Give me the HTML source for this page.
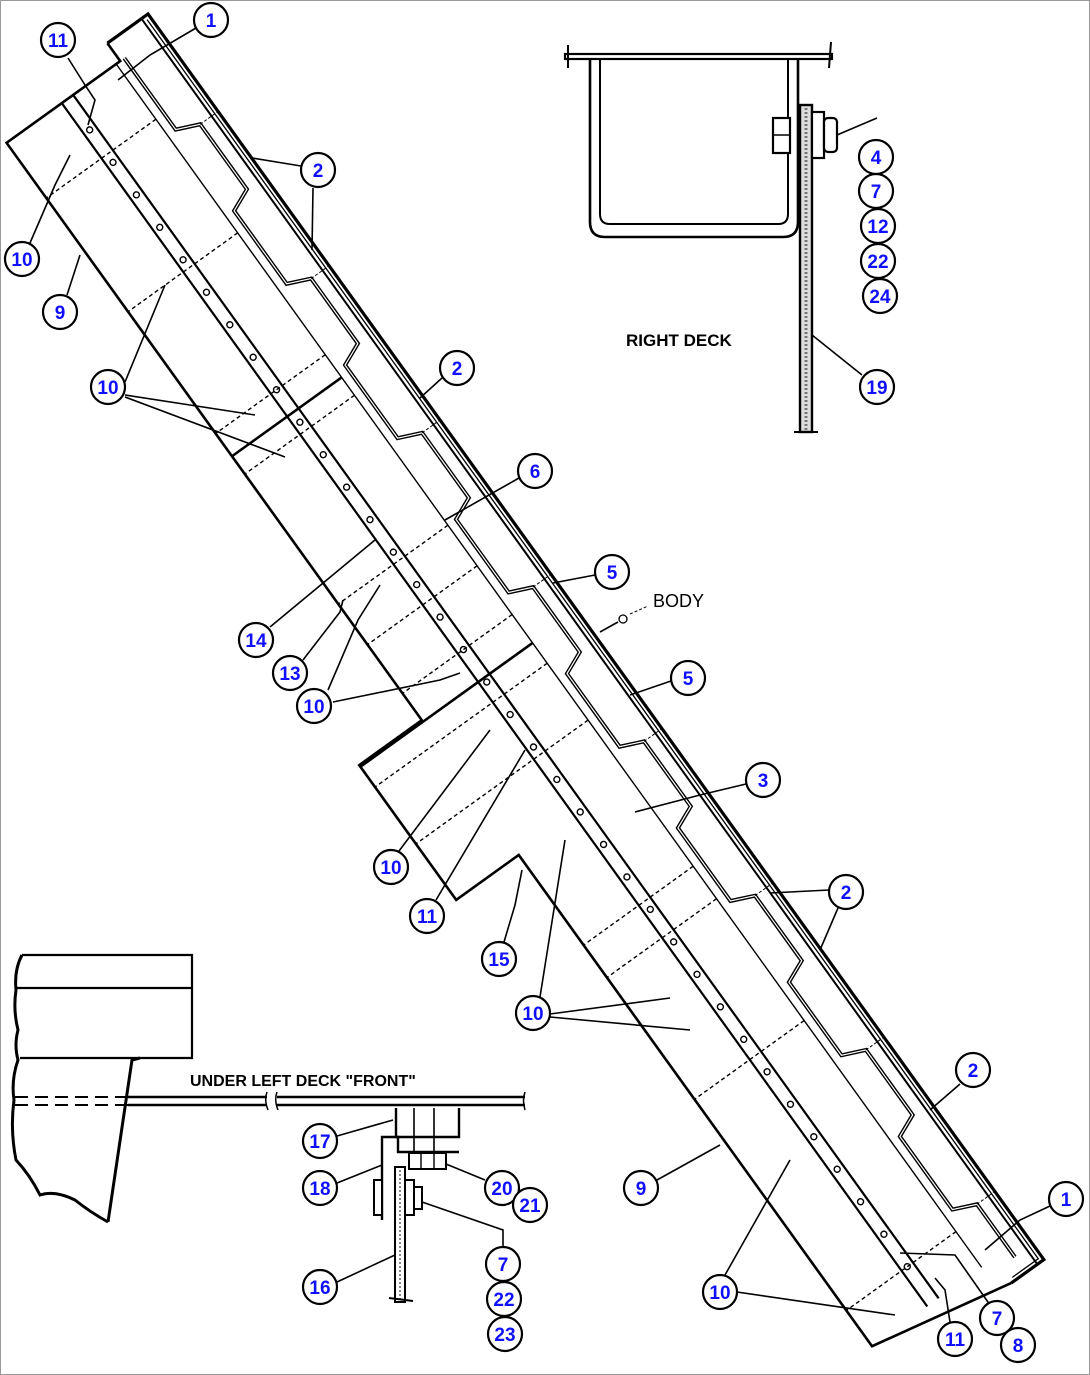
<!DOCTYPE html>
<html><head><meta charset="utf-8"><style>
html,body{margin:0;padding:0;background:#fff}
svg{display:block}
.c circle{fill:#fff;stroke:#000;stroke-width:2.2}
.c text{fill:#1010ff;font-family:"Liberation Sans",sans-serif;font-weight:bold;font-size:19px;text-anchor:middle}
.l{stroke:#000;stroke-width:1.6;fill:none}
.t{font-family:"Liberation Sans",sans-serif;font-weight:bold;font-size:17px;fill:#000}
</style></head><body>
<svg width="1090" height="1375" viewBox="0 0 1090 1375" xmlns="http://www.w3.org/2000/svg">
<rect x="0.5" y="0.5" width="1089" height="1374" fill="#fff" stroke="#999" stroke-width="1"/>

<g transform="matrix(0.584 0.812 -0.812 0.584 148 14)" fill="none" stroke="#000">
  <path d="M0 50 L0 0 L1534 0 L1534 40" stroke-width="3.2"/>
  <path d="M4 4 L1530 4 L1530 36" stroke-width="1.3"/>
  <line x1="0" y1="8" x2="1534" y2="8" stroke-width="2"/>
  <path d="M0 50 L22 50 L22 190 L733 190 L733 267 L899 267 L899 190 L1504 190 L1534 40" stroke-width="2.6"/>
  <path d="M22 45 L110 45 L120 22 L200 22 L210 45 L300 45 L310 22 L390 22 L400 45 L490 45 L500 22 L580 22 L590 45 L680 45 L690 22 L770 22 L780 45 L870 45 L880 22 L960 22 L970 45 L1060 45 L1070 22 L1150 22 L1160 45 L1250 45 L1260 22 L1340 22 L1350 45 L1440 45 L1450 22 L1515 22" stroke-width="4"/>
  <path d="M22 45 L110 45 L120 22 L200 22 L210 45 L300 45 L310 22 L390 22 L400 45 L490 45 L500 22 L580 22 L590 45 L680 45 L690 22 L770 22 L780 45 L870 45 L880 22 L960 22 L970 45 L1060 45 L1070 22 L1150 22 L1160 45 L1250 45 L1260 22 L1340 22 L1350 45 L1440 45 L1450 22 L1515 22" stroke="#fff" stroke-width="1.2"/>
  <path d="M22 55 L1504 55" stroke-width="1.4"/>
  <path d="M120 22 L120 0 M310 22 L310 0 M500 22 L500 0 M690 22 L690 0 M880 22 L880 0 M1070 22 L1070 0 M1260 22 L1260 0 M1450 22 L1450 0" stroke-width="1" stroke-dasharray="3 2"/>
  <line x1="22" y1="108" x2="1504" y2="108" stroke-width="2.2"/>
  <line x1="22" y1="122" x2="1504" y2="122" stroke-width="2.2"/>
  <g stroke-width="1.4" fill="#fff">
    <circle cx="60" cy="115" r="3"/><circle cx="100" cy="115" r="3"/><circle cx="140" cy="115" r="3"/><circle cx="180" cy="115" r="3"/><circle cx="220" cy="115" r="3"/><circle cx="260" cy="115" r="3"/><circle cx="300" cy="115" r="3"/><circle cx="340" cy="115" r="3"/><circle cx="380" cy="115" r="3"/><circle cx="420" cy="115" r="3"/><circle cx="460" cy="115" r="3"/><circle cx="500" cy="115" r="3"/><circle cx="540" cy="115" r="3"/><circle cx="580" cy="115" r="3"/><circle cx="620" cy="115" r="3"/><circle cx="660" cy="115" r="3"/><circle cx="700" cy="115" r="3"/><circle cx="740" cy="115" r="3"/><circle cx="780" cy="115" r="3"/><circle cx="820" cy="115" r="3"/><circle cx="860" cy="115" r="3"/><circle cx="900" cy="115" r="3"/><circle cx="940" cy="115" r="3"/><circle cx="980" cy="115" r="3"/><circle cx="1020" cy="115" r="3"/><circle cx="1060" cy="115" r="3"/><circle cx="1100" cy="115" r="3"/><circle cx="1140" cy="115" r="3"/><circle cx="1180" cy="115" r="3"/><circle cx="1220" cy="115" r="3"/><circle cx="1260" cy="115" r="3"/><circle cx="1300" cy="115" r="3"/><circle cx="1340" cy="115" r="3"/><circle cx="1380" cy="115" r="3"/><circle cx="1420" cy="115" r="3"/><circle cx="1460" cy="115" r="3"/>
  </g>
  <g stroke-width="1.4" stroke-dasharray="4 3">
    <path d="M90 55 L90 190 M230 55 L230 190 M380 55 L380 190 M430 55 L430 190 M590 55 L590 190 M640 55 L640 190 M700 55 L700 190 M760 55 L760 267 M830 55 L830 267 M1010 55 L1010 190 M1050 55 L1050 190 M1200 55 L1200 190 M1460 55 L1460 190"/>
  </g>
  <path d="M408 55 L408 190" stroke-width="2.6"/>
  <path d="M735 55 L735 267" stroke-width="2.6"/>
</g>

<g class="l">
  <path d="M196 28 L150 55 L118 80"/>
  <path d="M68 58 L85 85 L95 100 L88 125"/>
  <path d="M301 166 L252 158 M313 188 L312 250"/>
  <path d="M30 243 L55 185 L70 155"/>
  <path d="M67 295 L80 255"/>
  <path d="M125 382 L165 285 M125 395 L255 415 M125 397 L285 457"/>
  <path d="M442 378 L420 398"/>
  <path d="M519 478 L445 520"/>
  <path d="M595 575 L553 583"/>
  <path d="M270 627 L375 540"/>
  <path d="M303 660 L340 612 L343 600"/>
  <path d="M333 702 L440 680 L460 673 M328 690 L358 620 L380 585"/>
  <path d="M671 681 L630 695"/>
  <path d="M746 784 L700 795 L635 812"/>
  <path d="M399 851 L490 730"/>
  <path d="M436 900 L525 750"/>
  <path d="M504 942 L515 905 L522 870"/>
  <path d="M829 890 L770 893 M838 908 L820 950"/>
  <path d="M540 997 L565 840 M550 1014 L670 998 M550 1017 L690 1030"/>
  <path d="M960 1084 L930 1110"/>
  <path d="M1050 1206 L1020 1220 L985 1250"/>
  <path d="M657 1180 L720 1145"/>
  <path d="M725 1275 L790 1160 M737 1292 L895 1315"/>
  <path d="M900 1253 L955 1255 L990 1305"/>
  <path d="M950 1322 L945 1290 L935 1278"/>
  <path d="M600 632 L618 622"/>
</g>
<circle cx="623" cy="619" r="4" fill="none" stroke="#000" stroke-width="1.3"/>
<text x="653" y="607" class="t" style="font-weight:normal;font-size:18px">BODY</text>
<line x1="630" y1="614" x2="648" y2="606" stroke="#000" stroke-width="1" stroke-dasharray="3 2"/>

<g fill="none" stroke="#000">
  <rect x="565" y="54" width="267" height="5" stroke-width="2.2"/>
  <path d="M568 45 L568 68 M831 42 L829 68" stroke-width="2"/>
  <path d="M590 59 L590 222 Q590 237 605 237 L783 237 Q798 237 798 222 L798 59" stroke-width="2.6"/>
  <path d="M600 59 L600 214 Q600 224 610 224 L778 224 Q788 224 788 214 L788 59" stroke-width="2"/>
  <rect x="800" y="105" width="12" height="327" stroke-width="2.4" fill="#ddd"/>
  <line x1="806" y1="108" x2="806" y2="430" stroke="#777" stroke-width="3" stroke-dasharray="2 2"/>
  <line x1="794" y1="432" x2="818" y2="432" stroke-width="2"/>
  <rect x="773" y="118" width="17" height="35" stroke-width="2.2" fill="#fff"/>
  <line x1="773" y1="135" x2="790" y2="135" stroke-width="1.5"/>
  <rect x="812" y="112" width="12" height="46" stroke-width="2.2" fill="#fff"/>
  <rect x="824" y="118" width="13" height="34" rx="4" stroke-width="2.2" fill="#fff"/>
  <line x1="837" y1="135" x2="877" y2="118" stroke-width="1.6"/>
  <line x1="812" y1="335" x2="862" y2="375" stroke-width="1.6"/>
</g>
<text x="626" y="346" class="t">RIGHT DECK</text>

<g fill="none" stroke="#000">
  <path d="M22 955 L192 955 L192 1058 L20 1058" stroke-width="2.2"/>
  <line x1="17" y1="988" x2="192" y2="988" stroke-width="2.2"/>
  <path d="M22 955 Q14 970 16 990 Q13 1010 18 1030 Q14 1045 18 1060 Q11 1080 14 1100 Q10 1130 16 1160 Q30 1175 40 1195 Q55 1190 75 1200 Q90 1212 108 1222" stroke-width="3"/>
  <path d="M108 1222 L132 1060 L140 1058" stroke-width="3"/>
  <path d="M15 1097 L128 1097 M15 1105 L128 1105" stroke-width="2" stroke-dasharray="13 7"/>
  <path d="M128 1097 L267 1097 M128 1105 L267 1105 M277 1097 L525 1097 M277 1105 L525 1105" stroke-width="2.4"/>
  <path d="M267 1092 Q264 1100 268 1110 M277 1092 Q274 1100 278 1110 M525 1092 Q522 1100 525 1110" stroke-width="1.5"/>
  <path d="M396 1108 L396 1137 L459 1137 L459 1108" stroke-width="2.4"/>
  <path d="M414 1108 L414 1152 M434 1108 L434 1152" stroke-width="1.6"/>
  <path d="M382 1220 L382 1137 L398 1137 L398 1152 L459 1152" stroke-width="2.4"/>
  <rect x="409" y="1153" width="37" height="16" stroke-width="2" fill="#fff"/>
  <path d="M421 1153 L421 1169 M434 1153 L434 1169" stroke-width="1.4"/>
  <rect x="395" y="1167" width="10" height="135" stroke-width="2" fill="#fff"/>
  <line x1="400" y1="1170" x2="400" y2="1300" stroke="#666" stroke-width="1.5" stroke-dasharray="2 2"/>
  <line x1="389" y1="1298" x2="413" y2="1301" stroke-width="2"/>
  <rect x="374" y="1180" width="8" height="35" stroke-width="2" fill="#fff"/>
  <rect x="405" y="1180" width="9" height="35" stroke-width="2" fill="#fff"/>
  <rect x="414" y="1187" width="8" height="22" stroke-width="2" fill="#fff"/>
  <path d="M337 1136 L393 1120 M337 1183 L382 1165 M446 1164 L485 1180 M422 1202 L503 1230 L503 1247 M337 1282 L395 1255" stroke-width="1.6"/>
</g>
<text x="190" y="1086" class="t" style="font-size:16px">UNDER LEFT DECK "FRONT"</text>

<g class="c">
<circle cx="211" cy="20" r="17"/><text x="211" y="27">1</text>
<circle cx="58" cy="40" r="17"/><text x="58" y="47">11</text>
<circle cx="318" cy="170" r="17"/><text x="318" y="177">2</text>
<circle cx="22" cy="259" r="17"/><text x="22" y="266">10</text>
<circle cx="60" cy="312" r="17"/><text x="60" y="319">9</text>
<circle cx="108" cy="387" r="17"/><text x="108" y="394">10</text>
<circle cx="457" cy="368" r="17"/><text x="457" y="375">2</text>
<circle cx="535" cy="471" r="17"/><text x="535" y="478">6</text>
<circle cx="612" cy="572" r="17"/><text x="612" y="579">5</text>
<circle cx="256" cy="640" r="17"/><text x="256" y="647">14</text>
<circle cx="290" cy="673" r="17"/><text x="290" y="680">13</text>
<circle cx="314" cy="706" r="17"/><text x="314" y="713">10</text>
<circle cx="688" cy="678" r="17"/><text x="688" y="685">5</text>
<circle cx="763" cy="780" r="17"/><text x="763" y="787">3</text>
<circle cx="391" cy="867" r="17"/><text x="391" y="874">10</text>
<circle cx="427" cy="916" r="17"/><text x="427" y="923">11</text>
<circle cx="499" cy="959" r="17"/><text x="499" y="966">15</text>
<circle cx="846" cy="892" r="17"/><text x="846" y="899">2</text>
<circle cx="533" cy="1013" r="17"/><text x="533" y="1020">10</text>
<circle cx="973" cy="1070" r="17"/><text x="973" y="1077">2</text>
<circle cx="1066" cy="1199" r="17"/><text x="1066" y="1206">1</text>
<circle cx="641" cy="1188" r="17"/><text x="641" y="1195">9</text>
<circle cx="720" cy="1292" r="17"/><text x="720" y="1299">10</text>
<circle cx="997" cy="1318" r="17"/><text x="997" y="1325">7</text>
<circle cx="1018" cy="1345" r="17"/><text x="1018" y="1352">8</text>
<circle cx="955" cy="1339" r="17"/><text x="955" y="1346">11</text>
<circle cx="876" cy="157" r="17"/><text x="876" y="164">4</text>
<circle cx="876" cy="191" r="17"/><text x="876" y="198">7</text>
<circle cx="878" cy="226" r="17"/><text x="878" y="233">12</text>
<circle cx="878" cy="261" r="17"/><text x="878" y="268">22</text>
<circle cx="880" cy="296" r="17"/><text x="880" y="303">24</text>
<circle cx="877" cy="387" r="17"/><text x="877" y="394">19</text>
<circle cx="320" cy="1141" r="17"/><text x="320" y="1148">17</text>
<circle cx="320" cy="1188" r="17"/><text x="320" y="1195">18</text>
<circle cx="502" cy="1188" r="17"/><text x="502" y="1195">20</text>
<circle cx="530" cy="1205" r="17"/><text x="530" y="1212">21</text>
<circle cx="320" cy="1287" r="17"/><text x="320" y="1294">16</text>
<circle cx="503" cy="1264" r="17"/><text x="503" y="1271">7</text>
<circle cx="504" cy="1299" r="17"/><text x="504" y="1306">22</text>
<circle cx="505" cy="1334" r="17"/><text x="505" y="1341">23</text>
</g>
</svg>
</body></html>
